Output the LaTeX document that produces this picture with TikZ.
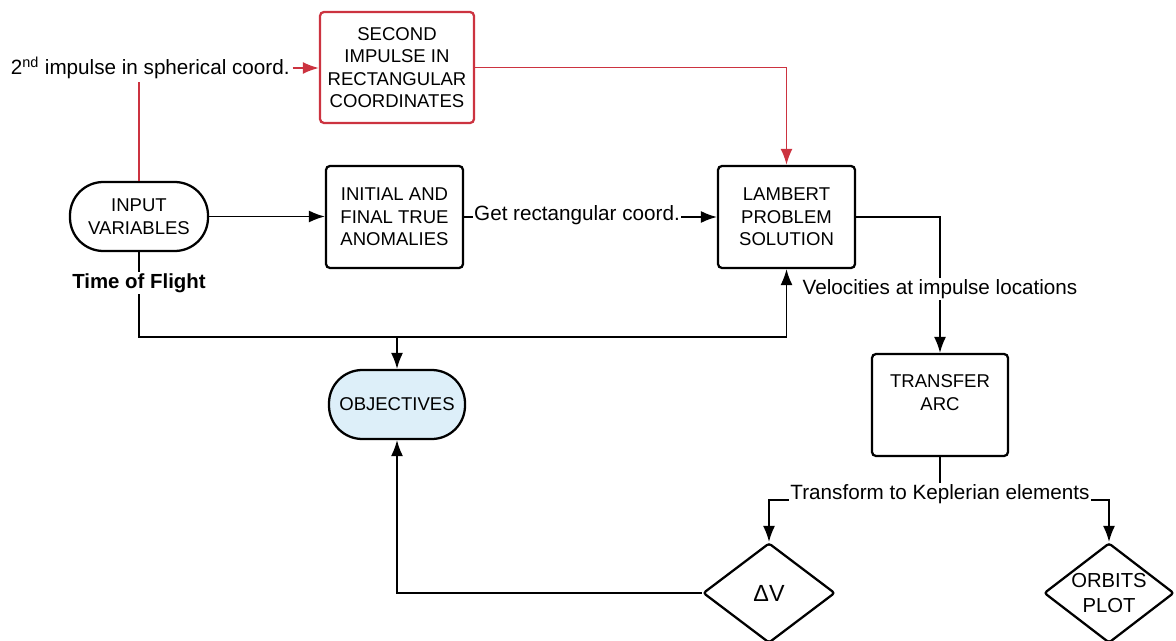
\documentclass[tikz,border=0pt]{standalone}
\usepackage{fontspec}
\setmainfont{Liberation Sans}
\usetikzlibrary{shapes.geometric,arrows.meta}
\definecolor{myred}{HTML}{CC3340}
\definecolor{objblue}{HTML}{DDEFF9}
\tikzset{
  nodefont/.style={font=\fontsize{13.9}{16.9}\selectfont},
  box/.style={draw, line width=1.7pt, rounded corners=3pt, align=center, nodefont, inner sep=2pt},
  stadium/.style={draw, line width=1.7pt, rounded corners=25pt, align=center, nodefont, inner sep=2pt},
  dia/.style={draw, diamond, line width=1.7pt, rounded corners=2pt, align=center, inner sep=0pt},
  lbl/.style={font=\fontsize{15.5}{18}\selectfont, fill=white, inner sep=1pt},
  conn/.style={line width=1.1pt},
  arr/.style={conn, -{Latex[length=12pt,width=9pt]}},
  redarr/.style={arr, draw=myred, line width=1.4pt},
}
\begin{document}
\begin{tikzpicture}[x=0.75pt,y=-0.75pt]
\useasboundingbox (0,0) rectangle (1176,641);

% nodes
\node[box, draw=myred, minimum width=115.5pt, minimum height=83.25pt] (sec) at (397,67.5)
  {SECOND\\IMPULSE IN\\RECTANGULAR\\COORDINATES};
\node[stadium, minimum width=103.5pt, minimum height=51.75pt] (inp) at (139,216.5)
  {INPUT\\VARIABLES};
\node[box, minimum width=102.75pt, minimum height=76.5pt] (ini) at (394.5,217)
  {INITIAL AND\\FINAL TRUE\\ANOMALIES};
\node[box, minimum width=102.75pt, minimum height=76.5pt] (lam) at (786.5,217)
  {LAMBERT\\PROBLEM\\SOLUTION};
\node[box, minimum width=102pt, minimum height=76.5pt] (tra) at (940,405)
  {TRANSFER\\ARC\\[2pt]};
\node[stadium, fill=objblue, minimum width=102pt, minimum height=51.75pt] (obj) at (397,404.5)
  {OBJECTIVES};
\node[dia, minimum width=99pt, minimum height=75pt, font=\fontsize{17.5}{20}\selectfont] (dv) at (769,593)
  {ΔV};
\node[dia, inner sep=-7pt, minimum width=97.5pt, minimum height=75pt, font=\fontsize{15.2}{18.8}\selectfont] (orb) at (1109,593)
  {ORBITS\\PLOT};

\node[font=\fontsize{15.5}{18}\selectfont, anchor=west, inner sep=2pt] (sph) at (8,68)
  {2\textsuperscript{nd} impulse in spherical coord.};

% connectors
\draw[conn, draw=myred, line width=1.4pt] (inp.north) -- (inp.north |- sph.south);
\draw[redarr] (sph.east) -- (sph.east -| sec.west);
\draw[redarr] (sec.east) -| (lam.north);

\draw[arr] (inp.east) -- (inp.east -| ini.west);
\draw[arr] (ini.east) -- (lam.west);
\node[lbl] (grc) at (577,215) {Get rectangular coord.};

\draw[arr] (lam.east) -| (tra.north);
\node[lbl] (vel) at (940,289) {Velocities at impulse locations};

\coordinate (bus) at (139,337);
\draw[arr] (inp.south) -- (bus) -| (lam.south);
\draw[arr] (obj.north |- bus) -- (obj.north);
\node[lbl, font=\fontsize{15.3}{18}\selectfont\bfseries] (tof) at (139,283) {Time of Flight};

\draw[arr] (dv.west) -| (obj.south);

\coordinate (tk) at (940,500);
\draw[arr] (tra.south) -- (tk) -| (dv.north);
\draw[arr] (tk) -| (orb.north);
\node[lbl] (kep) at (940,494) {Transform to Keplerian elements};
\end{tikzpicture}
\end{document}
